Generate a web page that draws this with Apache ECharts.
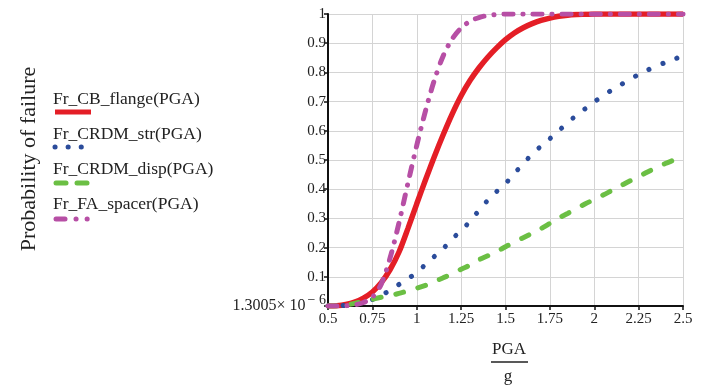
<!DOCTYPE html>
<html>
<head>
<meta charset="utf-8">
<script src="https://cdn.jsdelivr.net/npm/echarts@6/dist/echarts.min.js"></script>
<style>
html,body{margin:0;padding:0;background:#fff;}
#chart{width:704px;height:385px;}
</style>
</head>
<body>
<div id="chart"></div>
<script>
// PGA/g sample points
const pgaValues = [0.5,0.55,0.6,0.65,0.7,0.75,0.8,0.85,0.9,0.95,1.0,1.05,1.1,1.15,1.2,1.25,1.3,1.35,1.4,1.45,1.5,1.55,1.6,1.65,1.7,1.75,1.8,1.85,1.9,1.95,2.0,2.05,2.1,2.15,2.2,2.25,2.3,2.35,2.4,2.45,2.5];

const cbFlange = [0,0.001,0.005,0.013,0.027,0.048,0.08,0.125,0.185,0.265,0.35,0.433,0.513,0.588,0.658,0.72,0.772,0.815,0.852,0.884,0.912,0.935,0.953,0.967,0.978,0.986,0.992,0.996,0.998,0.999,1,1,1,1,1,1,1,1,1,1,1];

const crdmStr = [0,0.0005,0.002,0.006,0.013,0.022,0.036,0.055,0.074,0.094,0.114,0.143,0.17,0.197,0.23,0.258,0.29,0.327,0.362,0.392,0.419,0.455,0.486,0.521,0.547,0.573,0.6,0.628,0.653,0.676,0.699,0.72,0.74,0.758,0.775,0.793,0.808,0.821,0.834,0.845,0.857];

const crdmDisp = [0,0.0005,0.003,0.009,0.016,0.023,0.03,0.036,0.043,0.052,0.061,0.071,0.084,0.097,0.11,0.126,0.14,0.158,0.172,0.186,0.203,0.219,0.234,0.249,0.265,0.283,0.301,0.317,0.334,0.35,0.365,0.38,0.396,0.412,0.428,0.443,0.459,0.474,0.488,0.5,0.512];

const faSpacer = [0,0,0.001,0.004,0.012,0.03,0.075,0.165,0.285,0.42,0.55,0.67,0.775,0.858,0.915,0.952,0.975,0.988,0.995,0.998,1,1,1,1,1,1,1,1,1,1,1,1,1,1,1,1,1,1,1,1,1];

const seriesNames = ['Fr_CB_flange(PGA)','Fr_CRDM_str(PGA)','Fr_CRDM_disp(PGA)','Fr_FA_spacer(PGA)'];
const seriesColors = ['#e41e26','#2b4c9b','#6bbf44','#b74fa5'];
const xTickInterval = 0.25;
const yTickInterval = 0.1;

const pairs = arr => pgaValues.map((x,i)=>[x,arr[i]]);
const FONT = '"Liberation Serif","Times New Roman",serif';

const chart = echarts.init(document.getElementById('chart'), null, {renderer:'canvas'});

const legendY = [99,134,169,204];
const sampleY = [112,147,183,219];
const graphics = [];
seriesNames.forEach((n,i)=>{
  graphics.push({type:'text', x:53, y:legendY[i], style:{text:n, font:'17.5px '+FONT, fill:'#222', textVerticalAlign:'middle'}});
});
graphics.push({type:'line', shape:{x1:55,y1:sampleY[0],x2:91,y2:sampleY[0]}, style:{stroke:seriesColors[0], lineWidth:5}});
graphics.push({type:'line', shape:{x1:55,y1:sampleY[1],x2:82,y2:sampleY[1]}, style:{stroke:seriesColors[1], lineWidth:5, lineDash:[0.1,13], lineCap:'round'}});
graphics.push({type:'line', shape:{x1:56,y1:sampleY[2],x2:66,y2:sampleY[2]}, style:{stroke:seriesColors[2], lineWidth:5, lineCap:'round'}});
graphics.push({type:'line', shape:{x1:77,y1:sampleY[2],x2:87,y2:sampleY[2]}, style:{stroke:seriesColors[2], lineWidth:5, lineCap:'round'}});
graphics.push({type:'line', shape:{x1:56,y1:sampleY[3],x2:65,y2:sampleY[3]}, style:{stroke:seriesColors[3], lineWidth:5, lineCap:'round'}});
graphics.push({type:'line', shape:{x1:76,y1:sampleY[3],x2:88,y2:sampleY[3]}, style:{stroke:seriesColors[3], lineWidth:5, lineDash:[0.1,11], lineCap:'round'}});
// y-axis title
graphics.push({type:'text', x:29, y:159, rotation:Math.PI/2, style:{text:'Probability of failure', font:'22px '+FONT, fill:'#222', textAlign:'center', textVerticalAlign:'middle'}});
// x-axis title as fraction PGA / g
graphics.push({type:'text', x:509, y:350, style:{text:'PGA', font:'17px '+FONT, fill:'#222', textAlign:'center', textVerticalAlign:'middle'}});
graphics.push({type:'line', shape:{x1:491,y1:362,x2:528,y2:362}, style:{stroke:'#222', lineWidth:1.5}});
graphics.push({type:'text', x:508, y:377, style:{text:'g', font:'17px '+FONT, fill:'#222', textAlign:'center', textVerticalAlign:'middle'}});

const option = {
  animation:false,
  backgroundColor:'#fff',
  grid:{left:328, right:21, top:14, bottom:79, containLabel:false},
  xAxis:{
    type:'value', min:0.5, max:2.5, interval:xTickInterval,
    axisLine:{lineStyle:{color:'#111', width:2}},
    axisTick:{show:true, length:4, lineStyle:{color:'#111', width:1.5}},
    axisLabel:{color:'#222', fontFamily:FONT, fontSize:15, margin:6},
    splitLine:{show:true, lineStyle:{color:'#d4d4d4', width:1}}
  },
  yAxis:{
    type:'value', min:0, max:1, interval:yTickInterval,
    axisLine:{show:true, lineStyle:{color:'#111', width:2}},
    axisTick:{show:true, length:4, lineStyle:{color:'#111', width:1.5}},
    axisLabel:{color:'#222', fontFamily:FONT, fontSize:15, margin:2,
      formatter:function(v){ return v===0 ? '{a|1.3005× 10}{s|− 6}' : String(+v.toFixed(1)); },
      rich:{a:{fontFamily:FONT, fontSize:16, color:'#222', verticalAlign:'middle'},
            s:{fontFamily:FONT, fontSize:14, color:'#222', verticalAlign:'middle', padding:[0,0,12,2]}}
    },
    splitLine:{show:true, lineStyle:{color:'#d4d4d4', width:1}}
  },
  series:[
    {name:seriesNames[0], type:'line', data:pairs(cbFlange), showSymbol:false, smooth:0.3,
     lineStyle:{color:seriesColors[0], width:5.5}},
    {name:seriesNames[1], type:'line', data:pairs(crdmStr), showSymbol:false, smooth:0.3,
     lineStyle:{color:seriesColors[1], width:5, type:[0.1,15], cap:'round'}},
    {name:seriesNames[2], type:'line', data:pairs(crdmDisp), showSymbol:false, smooth:0.3,
     lineStyle:{color:seriesColors[2], width:5, type:[8,15], cap:'round'}},
    {name:seriesNames[3], type:'line', data:pairs(faSpacer), showSymbol:false, smooth:0.3,
     lineStyle:{color:seriesColors[3], width:5, type:[9,10,0.1,10], cap:'round'}}
  ],
  graphic:graphics
};
chart.setOption(option);
</script>
</body>
</html>
